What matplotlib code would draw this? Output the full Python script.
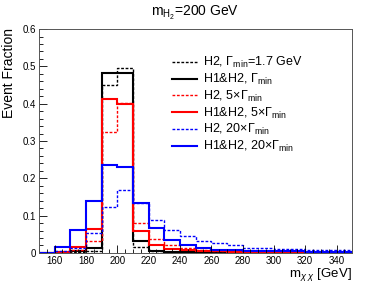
import numpy as np
import matplotlib
matplotlib.use('Agg')
import matplotlib.pyplot as plt
from matplotlib.ticker import MultipleLocator

plt.rcParams['font.family'] = ['Liberation Sans', 'DejaVu Sans']
plt.rcParams['mathtext.fontset'] = 'custom'
plt.rcParams['mathtext.rm'] = 'Liberation Sans'
plt.rcParams['mathtext.it'] = 'Liberation Sans:italic'

# bin edges, 10 GeV bins from 150 to 350
edges = np.arange(150, 351, 10)

# event fractions per bin
h2_gmin = [0, 0.001, 0.003, 0.006, 0.450, 0.495, 0.017, 0.005, 0.002, 0.001,
           0.001, 0.001, 0.001, 0.001, 0.001, 0.001, 0.001, 0.001, 0.001, 0.001]
h1h2_gmin = [0, 0.002, 0.004, 0.013, 0.483, 0.483, 0.032, 0.006, 0.002, 0.002,
             0.001, 0.001, 0.001, 0.001, 0.001, 0.001, 0.001, 0.001, 0.001, 0.001]
h2_g5 = [0, 0.002, 0.008, 0.032, 0.325, 0.403, 0.081, 0.037, 0.020, 0.012,
         0.008, 0.006, 0.005, 0.004, 0.003, 0.003, 0.002, 0.002, 0.002, 0.002]
h1h2_g5 = [0, 0.003, 0.017, 0.064, 0.413, 0.400, 0.060, 0.020, 0.011, 0.007,
           0.005, 0.004, 0.003, 0.002, 0.002, 0.002, 0.001, 0.001, 0.001, 0.001]
h2_g20 = [0, 0.004, 0.013, 0.053, 0.124, 0.168, 0.133, 0.088, 0.062, 0.046,
          0.033, 0.026, 0.021, 0.014, 0.014, 0.011, 0.011, 0.008, 0.008, 0.008]
h1h2_g20 = [0, 0.015, 0.062, 0.139, 0.236, 0.231, 0.135, 0.067, 0.036, 0.021,
            0.013, 0.009, 0.007, 0.005, 0.005, 0.004, 0.004, 0.003, 0.003, 0.003]

labels = [r'H2, $\Gamma_{\mathrm{min}}$=1.7 GeV',
          r'H1&H2, $\Gamma_{\mathrm{min}}$',
          r'H2, 5$\times\Gamma_{\mathrm{min}}$',
          r'H1&H2, 5$\times\Gamma_{\mathrm{min}}$',
          r'H2, 20$\times\Gamma_{\mathrm{min}}$',
          r'H1&H2, 20$\times\Gamma_{\mathrm{min}}$']
series = [h2_gmin, h1h2_gmin, h2_g5, h1h2_g5, h2_g20, h1h2_g20]
colors = ['black', 'black', 'red', 'red', 'blue', 'blue']
dotted = (0, (2, 1.2))

fig = plt.figure(figsize=(3.9, 2.82), dpi=100)
ax = fig.add_axes([0.1, 0.103, 0.803, 0.794])

for i, (vals, c, lab) in enumerate(zip(series, colors, labels)):
    if i % 2 == 0:
        ax.stairs(vals, edges, color=c, linestyle=dotted, linewidth=1.0, label=lab)
    else:
        ax.stairs(vals, edges, color=c, linestyle='-', linewidth=1.5, label=lab)

ax.set_xlim(150, 350)
ax.set_ylim(0, 0.6)
ax.xaxis.set_major_locator(MultipleLocator(20))
ax.xaxis.set_minor_locator(MultipleLocator(5))
ax.yaxis.set_major_locator(MultipleLocator(0.1))
ax.yaxis.set_minor_locator(MultipleLocator(0.02))
ax.set_yticks([0, 0.1, 0.2, 0.3, 0.4, 0.5, 0.6])
ax.set_yticklabels(['0', '0.1', '0.2', '0.3', '0.4', '0.5', '0.6'])
ax.tick_params(which='both', direction='in', top=False, right=False, labelsize=7, pad=2)
ax.tick_params(which='major', length=6, width=0.6)
ax.tick_params(which='minor', length=3, width=0.6)
for s in ax.spines.values():
    s.set_linewidth(0.7)
    s.set_color('#555555')

fig.text(0.022, 0.9, 'Event Fraction', rotation=90, ha='center', va='top', fontsize=10)
ax.set_xlabel(r'm$_{\chi\ \chi}$ [GeV]', fontsize=9.5, loc='right', labelpad=0)
fig.text(0.5, 0.955, r'm$_{\mathrm{H}_2}$=200 GeV', ha='center', va='center', fontsize=10)

ax.legend(loc='upper left', bbox_to_anchor=(0.41, 0.905), frameon=False, fontsize=9,
          handlelength=2.0, handletextpad=0.45, labelspacing=0.13, borderaxespad=0)

fig.savefig('out.png', dpi=100)
